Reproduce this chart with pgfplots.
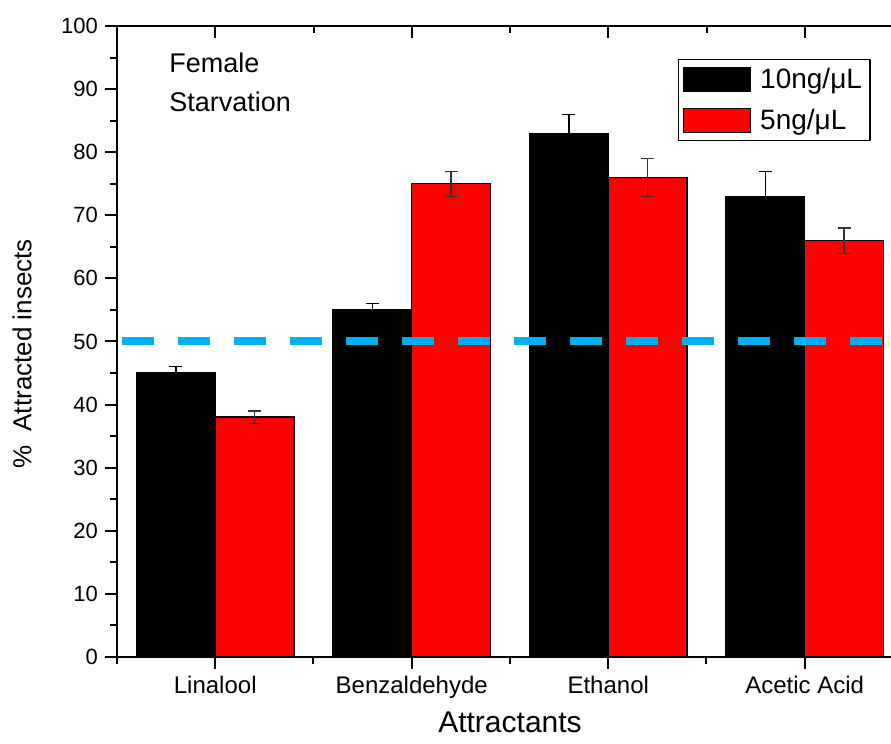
\documentclass[border=0pt]{standalone}
\usepackage{fontspec}
\setmainfont{Liberation Sans}
\usepackage{pgfplots}
\pgfplotsset{compat=1.18}
\definecolor{dashblue}{RGB}{0,176,240}
\definecolor{barred}{RGB}{255,0,0}

\pgfplotsset{
  frame/.style={
    at={(0,0)}, anchor=south west,
    scale only axis, width=393pt, height=315.5pt,
    xmin=-0.5, xmax=3.5, ymin=0, ymax=100,
    xtick={0,1,2,3}, minor xtick={-0.5,0.5,1.5,2.5,3.5},
    ytick={0,10,...,100}, minor ytick={5,15,...,95},
    major tick length=6pt, minor tick length=3.5pt,
    every tick/.style={black, line width=1pt},
    every minor tick/.style={black, line width=1pt},
    axis line style={line width=1pt},
  },
  barleg/.style={legend image code/.code={\draw[##1] (0pt,-6pt) rectangle (33.5pt,6pt);}},
}

\begin{document}
\begin{tikzpicture}
\clip (-58.5pt,-43.5pt) rectangle (387pt,328.5pt);

% mirror ticks on top and right
\begin{axis}[frame, xtick pos=right, ytick pos=right, tick align=inside,
  xticklabels={}, yticklabels={}]
\end{axis}

\begin{axis}[frame,
  xtick pos=left, ytick pos=left, tick align=outside,
  xticklabels={Linalool,Benzaldehyde,Ethanol,Acetic Acid},
  /pgf/number format/assume math mode=true,
  xticklabel style={font=\fontsize{12}{14}\selectfont},
  yticklabel style={font=\fontsize{11}{13}\selectfont},
  xlabel={Attractants},
  ylabel={\%\ \ Attracted insects},
  xlabel style={font=\fontsize{15}{18}\selectfont, at={(axis description cs:0.5,-0.1204)}, anchor=base},
  ylabel style={font=\fontsize{13}{16}\selectfont, at={(axis description cs:-0.1209,0.48)}, anchor=center},
  legend style={at={(0.7137,0.9477)}, anchor=north west, draw=black, line width=0.75pt,
    font=\fontsize{14}{16}\selectfont, inner xsep=2pt, inner ysep=2pt, row sep=5pt,
    /tikz/every odd column/.append style={column sep=2.5pt}},
  legend cell align=left,
]
\addplot[ybar, bar width=0.4, bar shift=0, fill=black, draw=black, line width=0.75pt, barleg,
  error bars/.cd, y dir=both, y explicit,
  error bar style={black, line width=0.6pt},
  error mark options={rotate=90, mark size=3.25pt, line width=0.6pt, black}]
  coordinates {(-0.2,45) +- (0,1) (0.8,55) +- (0,1) (1.8,83) +- (0,3) (2.8,73) +- (0,4)};
\addlegendentry{10ng/μL}
\addplot[ybar, bar width=0.4, bar shift=0, fill=barred, draw=black, line width=0.75pt, barleg,
  error bars/.cd, y dir=both, y explicit,
  error bar style={black!80, line width=0.6pt},
  error mark options={rotate=90, mark size=3.25pt, line width=0.6pt, black!80}]
  coordinates {(0.2,38) +- (0,1) (1.2,75) +- (0,2) (2.2,76) +- (0,3) (3.2,66) +- (0,2)};
\addlegendentry{5ng/μL}
\addplot[dashblue, line width=4pt, dash pattern=on 16pt off 12pt, forget plot]
  coordinates {(-0.4746,50) (3.6,50)};
\node[anchor=base west, font=\fontsize{13.5}{16}\selectfont] at (axis cs:-0.27,92.7) {Female};
\node[anchor=base west, font=\fontsize{13.5}{16}\selectfont] at (axis cs:-0.27,86.5) {Starvation};
\end{axis}
\end{tikzpicture}
\end{document}
